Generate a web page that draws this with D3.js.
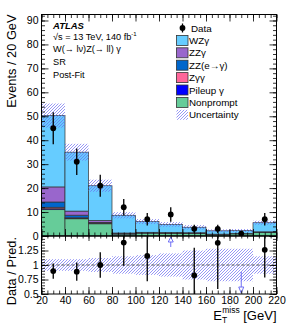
<!DOCTYPE html>
<html><head><meta charset="utf-8">
<script src="https://cdn.jsdelivr.net/npm/d3@7/dist/d3.min.js"></script>
<style>body{margin:0;background:#fff}svg{display:block;font-family:"Liberation Sans",Arial,Helvetica,sans-serif}</style>
</head><body><svg id="c" width="291" height="328"></svg>
<script>
// ---- data ----
const binEdges = [20,40,60,80,100,120,140,160,180,200,220];
const nonprompt = [11.0, 7.2, 5.1, 0.8, 1.2, 1.1, 1.1, 0.6, 0.9, 1.4];
const pileup    = [0.4, 0.3, 0.2, 0.2, 0.1, 0.1, 0.1, 0.05, 0.05, 0.1];
const zgg       = [0.6, 0.1, 0.1, 0.05, 0.05, 0.05, 0.05, 0.02, 0.02, 0.05];
const zzEG      = [2.2, 1.1, 0.3, 0.1, 0.1, 0.1, 0.05, 0.05, 0.05, 0.1];
const zzg       = [6.3, 1.7, 0.8, 0.1, 0.1, 0.1, 0.05, 0.05, 0.05, 0.1];
const wzg       = [29.8, 24.6, 14.5, 7.4, 4.5, 3.4, 2.3, 1.4, 1.2, 3.8];
const dataVals  = [45, 31, 21, 12, 7, 9, 3, 3, 1, 7];
const relUnc    = [0.10, 0.10, 0.12, 0.15, 0.17, 0.20, 0.25, 0.28, 0.28, 0.15];
const mainYTicks = [0,10,20,30,40,50,60,70,80,90];
const ratioYTicks = [0.5,0.75,1,1.25];
const xTicks = [20,40,60,80,100,120,140,160,180,200,220];

const seriesNames = ["Nonprompt","Pileup γ","Zγγ","ZZ(e→γ)","ZZγ","WZγ"];
const seriesVals  = [nonprompt,pileup,zgg,zzEG,zzg,wzg];
const seriesCols  = ["#66cc99","#0000ff","#ff6699","#0066cc","#9966cc","#66ccff"];

// ---- layout ----
const X0=41.5, X1=276.5, YT=14.5, YM=236, YB=294;
const svg = d3.select("#c");
const x = d3.scaleLinear().domain([20,220]).range([X0,X1]);
const y = d3.scaleLinear().domain([0,92.5]).range([YM,YT]);
const yr = d3.scaleLinear().domain([0.5,1.5]).range([YB,YM]);

const defs = svg.append("defs");
const pat = defs.append("pattern").attr("id","hatch").attr("patternUnits","userSpaceOnUse")
  .attr("width",3).attr("height",3);
pat.append("path").attr("d","M-1,1 L1,-1 M0,3 L3,0 M2,4 L4,2")
  .attr("stroke","#6a6af0").attr("stroke-width",0.7);
defs.append("clipPath").attr("id","cm").append("rect").attr("x",X0).attr("y",YT).attr("width",X1-X0).attr("height",YM-YT);
defs.append("clipPath").attr("id","cr").append("rect").attr("x",X0).attr("y",YM).attr("width",X1-X0).attr("height",YB-YM);

const bins = d3.range(dataVals.length).map(i=>({lo:binEdges[i],hi:binEdges[i+1],c:(binEdges[i]+binEdges[i+1])/2}));
const total = bins.map((b,i)=>d3.sum(seriesVals,s=>s[i]));

// stacked histogram
const gm = svg.append("g").attr("clip-path","url(#cm)");
const stackData = bins.map((b,i)=>{const o={i}; seriesNames.forEach((n,k)=>o[n]=seriesVals[k][i]); return o;});
const stacked = d3.stack().keys(seriesNames)(stackData);
stacked.forEach((layer,k)=>{
  gm.selectAll(null).data(layer).enter().append("rect")
    .attr("x",d=>x(bins[d.data.i].lo)).attr("width",d=>x(bins[d.data.i].hi)-x(bins[d.data.i].lo))
    .attr("y",d=>y(d[1])).attr("height",d=>Math.max(0,y(d[0])-y(d[1])))
    .attr("fill",seriesCols[k]).attr("stroke","#333").attr("stroke-width",0.7);
});
// uncertainty band main
gm.selectAll(null).data(bins).enter().append("rect")
  .attr("x",b=>x(b.lo)).attr("width",b=>x(b.hi)-x(b.lo))
  .attr("y",(b,i)=>y(total[i]*(1+relUnc[i]))).attr("height",(b,i)=>y(total[i]*(1-relUnc[i]))-y(total[i]*(1+relUnc[i])))
  .attr("fill","url(#hatch)");
// data points
gm.selectAll(null).data(bins).enter().append("line")
  .attr("x1",b=>x(b.c)).attr("x2",b=>x(b.c))
  .attr("y1",(b,i)=>y(dataVals[i]+Math.sqrt(dataVals[i]))).attr("y2",(b,i)=>y(Math.max(0,dataVals[i]-Math.sqrt(dataVals[i]))))
  .attr("stroke","#000").attr("stroke-width",1.3);
gm.selectAll(null).data(bins).enter().append("circle")
  .attr("cx",b=>x(b.c)).attr("cy",(b,i)=>y(dataVals[i])).attr("r",2.9).attr("fill","#000");

// ratio panel
const gr = svg.append("g").attr("clip-path","url(#cr)");
gr.selectAll(null).data(bins).enter().append("rect")
  .attr("x",b=>x(b.lo)).attr("width",b=>x(b.hi)-x(b.lo))
  .attr("y",(b,i)=>yr(1+relUnc[i])).attr("height",(b,i)=>yr(1-relUnc[i])-yr(1+relUnc[i]))
  .attr("fill","url(#hatch)");
gr.append("line").attr("x1",X0).attr("x2",X1).attr("y1",yr(1)).attr("y2",yr(1))
  .attr("stroke","#555").attr("stroke-width",1).attr("stroke-dasharray","3,2");
bins.forEach((b,i)=>{
  const r = dataVals[i]/total[i], e = Math.sqrt(dataVals[i])/total[i];
  const cx = x(b.c);
  if (r>1.5){
    gr.append("line").attr("x1",cx).attr("x2",cx).attr("y1",YM+4).attr("y2",YM+11).attr("stroke","#6f6ff5").attr("stroke-width",1);
    gr.append("path").attr("d",`M${cx-2.5},${YM+6} L${cx},${YM+1} L${cx+2.5},${YM+6} Z`).attr("fill","#fff").attr("stroke","#6f6ff5").attr("stroke-width",1);
  } else if (r<0.5){
    gr.append("line").attr("x1",cx).attr("x2",cx).attr("y1",yr(Math.min(1.5,r+e))-0).attr("y2",YB-6).attr("stroke","#6f6ff5").attr("stroke-width",1);
    gr.append("path").attr("d",`M${cx-2.5},${YB-7} L${cx},${YB-1} L${cx+2.5},${YB-7} Z`).attr("fill","#fff").attr("stroke","#6f6ff5").attr("stroke-width",1);
  } else {
    gr.append("line").attr("x1",cx).attr("x2",cx).attr("y1",yr(r+e)).attr("y2",yr(r-e)).attr("stroke","#000").attr("stroke-width",1.3);
    gr.append("circle").attr("cx",cx).attr("cy",yr(r)).attr("r",2.9).attr("fill","#000");
  }
});

// frames
svg.append("rect").attr("x",X0).attr("y",YT).attr("width",X1-X0).attr("height",YM-YT).attr("fill","none").attr("stroke","#000").attr("stroke-width",1);
svg.append("rect").attr("x",X0).attr("y",YM).attr("width",X1-X0).attr("height",YB-YM).attr("fill","none").attr("stroke","#000").attr("stroke-width",1);

// axes helper
function ax(gen, tx, ty){
  const g = svg.append("g").attr("transform",`translate(${tx},${ty})`).call(gen);
  g.select(".domain").remove();
  g.selectAll("line").attr("stroke","#000").attr("stroke-width",0.8);
  g.selectAll("text").attr("font-size",10.5).attr("font-family","Liberation Sans, Arial, sans-serif").attr("fill","#000");
  return g;
}
const fmtR = d=> d===1?"1":String(d);
// main y
ax(d3.axisLeft(y).tickValues(mainYTicks).tickSize(-7).tickPadding(3).tickFormat(d3.format("d")), X0,0);
ax(d3.axisLeft(y).tickValues(d3.range(0,93,2)).tickSize(-3.5).tickFormat(""), X0,0);
ax(d3.axisRight(y).tickValues(mainYTicks).tickSize(-7).tickFormat(""), X1,0);
ax(d3.axisRight(y).tickValues(d3.range(0,93,2)).tickSize(-3.5).tickFormat(""), X1,0);
// ratio y
ax(d3.axisLeft(yr).tickValues(ratioYTicks.concat([1.5])).tickSize(-7).tickPadding(3).tickFormat(d=>ratioYTicks.includes(d)?fmtR(d):""), X0,0);
ax(d3.axisLeft(yr).tickValues(d3.range(0.5,1.501,0.05)).tickSize(-3.5).tickFormat(""), X0,0);
ax(d3.axisRight(yr).tickValues(ratioYTicks.concat([1.5])).tickSize(-7).tickFormat(""), X1,0);
ax(d3.axisRight(yr).tickValues(d3.range(0.5,1.501,0.05)).tickSize(-3.5).tickFormat(""), X1,0);
// x axes
const xMinor = d3.range(20,221,5);
ax(d3.axisTop(x).tickValues(xTicks).tickSize(-7).tickFormat(""),0,YT);
ax(d3.axisTop(x).tickValues(xMinor).tickSize(-3.5).tickFormat(""),0,YT);
ax(d3.axisBottom(x).tickValues(xTicks).tickSize(-7).tickFormat(""),0,YM);
ax(d3.axisBottom(x).tickValues(xMinor).tickSize(-3.5).tickFormat(""),0,YM);
ax(d3.axisTop(x).tickValues(xTicks).tickSize(-5).tickFormat(""),0,YM);
ax(d3.axisTop(x).tickValues(xMinor).tickSize(-2.5).tickFormat(""),0,YM);
ax(d3.axisBottom(x).tickValues(xTicks).tickSize(-7).tickPadding(3).tickFormat(d3.format("d")),0,YB);
ax(d3.axisBottom(x).tickValues(xMinor).tickSize(-3.5).tickFormat(""),0,YB);

// axis titles
svg.append("text").attr("transform",`translate(15.5,${YT}) rotate(-90)`).attr("text-anchor","end")
  .attr("font-size",12.8).text("Events / 20 GeV");
svg.append("text").attr("transform",`translate(15.5,${YM+1}) rotate(-90)`).attr("text-anchor","end")
  .attr("font-size",12.8).text("Data / Pred.");
const xt = svg.append("text").attr("x",X1).attr("y",320).attr("text-anchor","end").attr("font-size",13);
xt.append("tspan").text("E");
xt.append("tspan").attr("font-size",8.5).attr("dy",3).text("T");
xt.append("tspan").attr("font-size",8.5).attr("dx",-5).attr("dy",-10).text("miss");
xt.append("tspan").attr("dy",7).text(" [GeV]");

// header text
const hx = 53;
svg.append("text").attr("x",hx).attr("y",28.5).attr("font-size",9.5).attr("font-weight","bold").attr("font-style","italic").text("ATLAS");
const t2 = svg.append("text").attr("x",hx).attr("y",39.5).attr("font-size",9.2);
t2.append("tspan").text("√s = 13 TeV, 140 fb");
t2.append("tspan").attr("font-size",6).attr("dy",-4).text("-1");
svg.append("text").attr("x",hx).attr("y",51.5).attr("font-size",9.2).text("W(→ lν)Z(→ ll) γ");
svg.append("text").attr("x",hx).attr("y",65).attr("font-size",9.2).text("SR");
svg.append("text").attr("x",hx).attr("y",77.5).attr("font-size",9.2).text("Post-Fit");

// legend
const LX = 176.5, LY0 = 28, LDY = 12.4;
const lg = svg.append("g");
lg.append("line").attr("x1",182.5).attr("x2",182.5).attr("y1",LY0-4.5).attr("y2",LY0+4.5).attr("stroke","#000").attr("stroke-width",1.3);
lg.append("circle").attr("cx",182.5).attr("cy",LY0).attr("r",2.9).attr("fill","#000");
lg.append("text").attr("x",191).attr("y",LY0+3.5).attr("font-size",9.8).text("Data");
const legOrder = [5,4,3,2,1,0];
legOrder.forEach((k,j)=>{
  const yy = LY0 + LDY*(j+1);
  lg.append("rect").attr("x",LX).attr("y",yy-5).attr("width",11.5).attr("height",10)
    .attr("fill",seriesCols[k]).attr("stroke","#333").attr("stroke-width",0.8);
  lg.append("text").attr("x",189).attr("y",yy+3.5).attr("font-size",9.8).text(seriesNames[k]);
});
const yu = LY0 + LDY*7;
lg.append("rect").attr("x",LX).attr("y",yu-5).attr("width",11.5).attr("height",10).attr("fill","url(#hatch)");
lg.append("text").attr("x",189).attr("y",yu+3.5).attr("font-size",9.8).text("Uncertainty");
</script></body></html>
